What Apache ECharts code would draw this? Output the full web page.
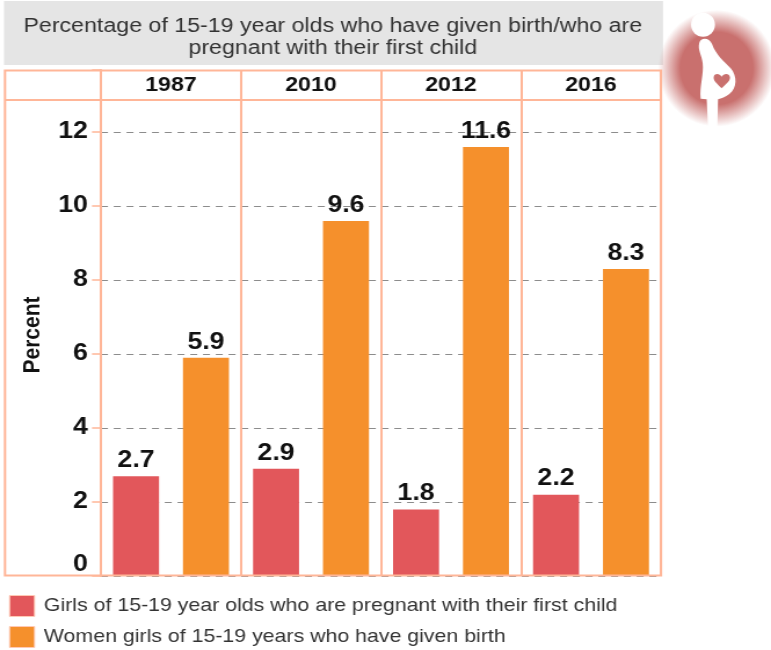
<!DOCTYPE html>
<html>
<head>
<meta charset="utf-8">
<style>
  html, body { margin: 0; padding: 0; background: #fff; overflow: hidden; }
  /* the reference is a horizontally stretched picture, so draw narrow and stretch it the same way */
  #chart { width: 665px; height: 650px; transform-origin: 0 0; transform: scaleX(1.1594); }
</style>
<script src="https://cdn.jsdelivr.net/npm/echarts@6/dist/echarts.min.js"></script>
</head>
<body>
<div id="chart"></div>
<script>
const years = ['1987', '2010', '2012', '2016'];
const pregnant = [2.7, 2.9, 1.8, 2.2];
const gaveBirth = [5.9, 9.6, 11.6, 8.3];
const yTicks = [0, 2, 4, 6, 8, 10, 12];
const pregnantName = 'Girls of 15-19 year olds who are pregnant with their first child';
const birthName = 'Women girls of 15-19 years who have given birth';
const titleText = 'Percentage of 15-19 year olds who have given birth/who are\npregnant with their first child';

const font = '"Liberation Sans", Arial, sans-serif';
const frameColor = '#ffb698';
const iconRed = '#c9706e';
const sx = (x) => x * 665 / 771; // page x to canvas x

const chart = echarts.init(document.getElementById('chart'));

const barLabel = {
  show: true,
  position: 'top',
  distance: 4,
  color: '#111',
  fontFamily: font,
  fontWeight: 'bold',
  fontSize: 23,
  formatter: (p) => p.value.toFixed(1)
};

// icon outlines
echarts.graphic.registerShape('iconBody', echarts.graphic.extendPath(
  'M178 128 C182 112 208 112 216 132 C228 165 250 182 272 205 C292 228 292 265 268 282 C256 292 244 295 234 298 L232 380 C230 396 206 396 204 380 L200 298 L182 296 C178 260 192 220 188 190 C186 165 172 150 178 128 Z', {}));
echarts.graphic.registerShape('iconHeart', echarts.graphic.extendPath(
  'M245 265 C232 252 220 243 221 232 C222 220 238 219 245 230 C252 219 268 220 270 232 C271 243 258 252 245 265 Z', {}));

chart.setOption({
  animation: false,
  backgroundColor: '#fff',
  textStyle: { fontFamily: font },
  title: {
    text: titleText,
    left: sx(327),
    top: 10,
    textAlign: 'center',
    textStyle: {
      color: '#333',
      fontFamily: font,
      fontWeight: 'normal',
      fontSize: 20,
      lineHeight: 22
    }
  },
  legend: {
    orient: 'vertical',
    left: sx(9),
    top: 595,
    padding: 0,
    icon: 'rect',
    itemWidth: sx(25),
    itemHeight: 21,
    itemGap: 9,
    itemStyle: { borderColor: '#ffc9b5', borderWidth: 1 },
    textStyle: { color: '#333', fontFamily: font, fontSize: 18.4, padding: [0, 0, 0, 3] },
    data: [pregnantName, birthName]
  },
  grid: { left: sx(101), right: sx(110), top: 70, bottom: 74 },
  xAxis: {
    type: 'category',
    position: 'top',
    data: years,
    axisLine: { show: false },
    axisTick: { show: false },
    axisLabel: { color: '#111', fontWeight: 'bold', fontSize: 20, margin: -25 },
    splitLine: { show: true, lineStyle: { color: frameColor, width: 2 } }
  },
  yAxis: {
    type: 'value',
    min: 0,
    max: 13.68,
    interval: 2,
    name: 'Percent',
    nameLocation: 'middle',
    nameGap: sx(56),
    nameRotate: 90,
    nameTextStyle: { color: '#111', fontWeight: 'bold', fontSize: 21, padding: [0, 24, 0, 0] },
    axisLine: { show: true, lineStyle: { color: frameColor, width: 2 } },
    axisTick: { show: true, length: sx(9), lineStyle: { color: frameColor, width: 1.5 } },
    axisLabel: {
      color: '#111',
      fontWeight: 'bold',
      fontSize: 23,
      margin: sx(13),
      verticalAlignMinLabel: 'bottom',
      formatter: (v) => (yTicks.includes(v) ? String(v) : '')
    },
    splitLine: { show: true, lineStyle: { color: '#8c8c8c', type: [6, 5], width: 1.2 } }
  },
  series: [
    {
      name: pregnantName,
      type: 'bar',
      data: pregnant,
      barWidth: sx(46),
      barGap: '52%',
      itemStyle: { color: '#e2575b' },
      label: barLabel
    },
    {
      name: birthName,
      type: 'bar',
      data: gaveBirth,
      barWidth: sx(46),
      itemStyle: { color: '#f5902c' },
      label: barLabel
    }
  ],
  graphic: [
    // title band
    { type: 'rect', z: -1, shape: { x: sx(4), y: 1, width: sx(659), height: 64 }, style: { fill: '#e5e5e5' } },
    // frame around the chart and the year header row
    { type: 'rect', z: 5, shape: { x: sx(5), y: 70.5, width: sx(656), height: 505 }, style: { fill: 'none', stroke: frameColor, lineWidth: 2 } },
    { type: 'line', z: 5, shape: { x1: sx(5), y1: 100, x2: sx(661), y2: 100 }, style: { stroke: frameColor, lineWidth: 2 } },
    // pregnant woman icon, drawn in 3x crop coordinates
    {
      type: 'group',
      x: sx(640),
      y: 0,
      scaleX: sx(1) / 3,
      scaleY: 1 / 3,
      children: [
        {
          type: 'circle',
          shape: { cx: 230, cy: 205, r: 175 },
          style: {
            fill: new echarts.graphic.RadialGradient(0.5, 0.5, 0.5, [
              { offset: 0, color: iconRed },
              { offset: 0.62, color: iconRed },
              { offset: 1, color: 'rgba(201,112,110,0)' }
            ])
          }
        },
        { type: 'circle', z: 2, shape: { cx: 189, cy: 74, r: 36 }, style: { fill: '#fff' } },
        { type: 'iconBody', z: 2, style: { fill: '#fff' } },
        { type: 'iconHeart', z: 3, style: { fill: iconRed } }
      ]
    }
  ]
});
</script>
</body>
</html>
